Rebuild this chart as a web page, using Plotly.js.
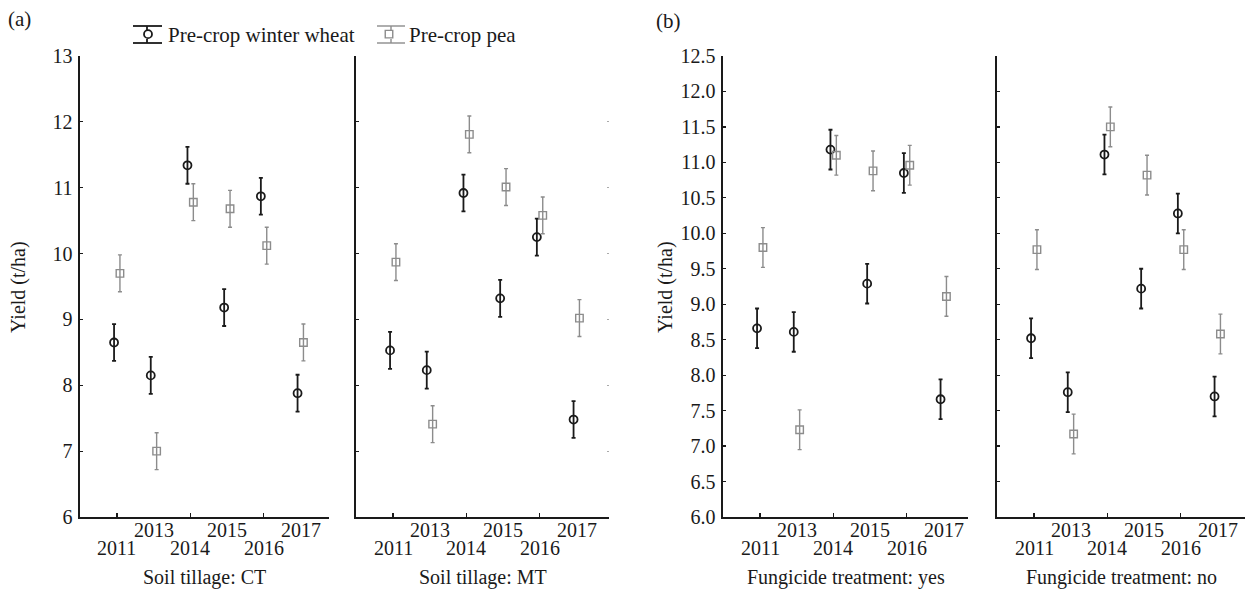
<!DOCTYPE html>
<html>
<head>
<meta charset="utf-8">
<script src="https://cdn.plot.ly/plotly-3.0.1.min.js"></script>
<style>html,body{margin:0;padding:0;background:#fff;}#chart{width:1245px;height:594px;}</style>
</head>
<body>
<div id="chart"></div>
<script>
// ---- data ----
const years = ['2011', '2013', '2014', '2015', '2016', '2017'];

const ctWheat = [8.65, 8.15, 11.34, 9.18, 10.87, 7.88];
const ctPea   = [9.70, 7.00, 10.78, 10.68, 10.12, 8.65];
const mtWheat = [8.53, 8.23, 10.92, 9.32, 10.25, 7.48];
const mtPea   = [9.87, 7.41, 11.81, 11.01, 10.58, 9.02];

const fyWheat = [8.66, 8.61, 11.18, 9.29, 10.85, 7.66];
const fyPea   = [9.80, 7.23, 11.10, 10.88, 10.96, 9.11];
const fnWheat = [8.52, 7.76, 11.11, 9.22, 10.28, 7.70];
const fnPea   = [9.77, 7.17, 11.50, 10.82, 9.77, 8.58];

const ciWheat = [0.28, 0.28, 0.28, 0.28, 0.28, 0.28];
const ciPea   = [0.28, 0.28, 0.28, 0.28, 0.28, 0.28];

const panelTitles = ['Soil tillage: CT', 'Soil tillage: MT', 'Fungicide treatment: yes', 'Fungicide treatment: no'];
const seriesNames = ['Pre-crop winter wheat', 'Pre-crop pea'];

// ---- styling ----
const W = 1245, H = 594;
const FONT = "'Liberation Serif', 'Times New Roman', 'DejaVu Serif', serif";
const BLACK = '#1a1a1a', GREY = '#8c8c8c';
const px = v => v / W;
const py = v => (H - v) / H;

const panels = [
  {wheat: ctWheat, pea: ctPea, x0: 80,  x1: 329,  ymax: 13,   dt: 1,   fmt: 'd'},
  {wheat: mtWheat, pea: mtPea, x0: 356, x1: 609,  ymax: 13,   dt: 1,   fmt: 'd'},
  {wheat: fyWheat, pea: fyPea, x0: 723, x1: 968,  ymax: 12.5, dt: 0.5, fmt: '.1f'},
  {wheat: fnWheat, pea: fnPea, x0: 997, x1: 1245, ymax: 12.5, dt: 0.5, fmt: '.1f'}
];
const SPACING = 36.7, FIRST = 37; // px
const idx = years.map((y, i) => i);

const data = [];
const layout = {
  width: W, height: H,
  margin: {l: 0, r: 0, t: 0, b: 0},
  paper_bgcolor: '#fff', plot_bgcolor: '#fff',
  font: {family: FONT, size: 20, color: BLACK},
  showlegend: true,
  legend: {orientation: 'h', x: px(128), y: py(14), xanchor: 'left', yanchor: 'top',
           font: {family: FONT, size: 21, color: BLACK}, bgcolor: 'rgba(0,0,0,0)',
           entrywidth: 196, entrywidthmode: 'pixels', traceorder: 'normal'},
  annotations: [], shapes: []
};

panels.forEach((p, k) => {
  const n = k + 1;
  const xa = 'xaxis' + (n === 1 ? '' : n), ya = 'yaxis' + (n === 1 ? '' : n);
  const xr = 'x' + (n === 1 ? '' : n), yr = 'y' + (n === 1 ? '' : n);
  const r0 = -FIRST / SPACING;
  const r1 = r0 + (p.x1 - p.x0) / SPACING;
  data.push({
    type: 'scatter', mode: 'markers', name: seriesNames[0], legendgroup: 'w', showlegend: k === 0,
    x: idx.map(i => i - 0.08), y: p.wheat, xaxis: xr, yaxis: yr,
    marker: {symbol: 'circle-open', size: 8, color: BLACK, line: {width: 1.8, color: BLACK}},
    error_y: {type: 'data', array: ciWheat, visible: true, color: BLACK, thickness: 1.8, width: 2},
    hoverinfo: 'skip'
  });
  data.push({
    type: 'scatter', mode: 'markers', name: seriesNames[1], legendgroup: 'p', showlegend: k === 0,
    x: idx.map(i => i + 0.08), y: p.pea, xaxis: xr, yaxis: yr,
    marker: {symbol: 'square-open', size: 7.5, color: GREY, line: {width: 1.4, color: GREY}},
    error_y: {type: 'data', array: ciPea, visible: true, color: GREY, thickness: 1.4, width: 2},
    hoverinfo: 'skip'
  });
  const ticks = [];
  for (let v = 6; v <= p.ymax + 1e-9; v += p.dt) ticks.push(+v.toFixed(2));
  layout[xa] = {
    domain: [px(p.x0), px(p.x1)], range: [r0, r1], anchor: yr,
    showgrid: false, zeroline: false, showline: true, linecolor: BLACK, linewidth: 1.6,
    ticks: 'inside', ticklen: 4, tickwidth: 1.2, tickcolor: BLACK,
    tickvals: [0, 2, 4], showticklabels: false, fixedrange: true
  };
  layout[ya] = {
    domain: [py(517), py(56)], range: [6, p.ymax], anchor: xr,
    showgrid: false, zeroline: false, showline: true, linecolor: BLACK, linewidth: 1.6,
    ticks: 'inside', ticklen: 3, tickwidth: 1.2, tickcolor: BLACK,
    tickvals: ticks, tickformat: p.fmt, showticklabels: (k === 0 || k === 2),
    tickfont: {family: FONT, size: 20, color: BLACK}, ticklabelstandoff: 2, fixedrange: true
  };
  // year labels in two staggered rows
  years.forEach((yv, i) => {
    layout.annotations.push({
      text: yv, xref: xr, yref: 'paper', x: i, y: py(i % 2 === 1 ? 530 : 548),
      xanchor: 'center', yanchor: 'middle', showarrow: false,
      font: {family: FONT, size: 20, color: BLACK}
    });
  });
  // panel axis title
  layout.annotations.push({
    text: panelTitles[k], xref: 'paper', yref: 'paper', x: px((p.x0 + p.x1) / 2), y: py(577),
    xanchor: 'center', yanchor: 'middle', showarrow: false,
    font: {family: FONT, size: 20, color: BLACK}
  });
});

// faint mirrored ticks on the right side of the MT panel
layout.yaxis5 = {
  overlaying: 'y2', side: 'right', anchor: 'x2', range: [6, 13], showline: false, showgrid: false,
  zeroline: false, ticks: 'inside', ticklen: 2, tickwidth: 1, tickcolor: '#aaa',
  tickvals: [7, 8, 9, 10, 11, 12], showticklabels: false, fixedrange: true
};
data.push({type: 'scatter', x: [], y: [], xaxis: 'x2', yaxis: 'y5', showlegend: false, hoverinfo: 'skip'});

// y titles and panel letters
[[18, 'Yield (t/ha)'], [665, 'Yield (t/ha)']].forEach(([x, t]) => {
  layout.annotations.push({
    text: t, xref: 'paper', yref: 'paper', x: px(x), y: py(287), textangle: -90,
    xanchor: 'center', yanchor: 'middle', showarrow: false, font: {family: FONT, size: 20, color: BLACK}
  });
});
[[19, 19, '(a)'], [668, 21, '(b)']].forEach(([x, y, t]) => {
  layout.annotations.push({
    text: t, xref: 'paper', yref: 'paper', x: px(x), y: py(y),
    xanchor: 'center', yanchor: 'middle', showarrow: false, font: {family: FONT, size: 21, color: BLACK}
  });
});

// legend caps (error-bar glyph around the legend markers)
[[133, 162, 147, BLACK, 1.8], [377, 405, 391, GREY, 1.4]].forEach(([a, b, c, col, w]) => {
  layout.shapes.push({type: 'line', xref: 'paper', yref: 'paper', x0: px(a), x1: px(b), y0: py(26), y1: py(26), line: {color: col, width: w}});
  layout.shapes.push({type: 'line', xref: 'paper', yref: 'paper', x0: px(a), x1: px(b), y0: py(43), y1: py(43), line: {color: col, width: w}});
  layout.shapes.push({type: 'line', xref: 'paper', yref: 'paper', x0: px(c), x1: px(c), y0: py(26), y1: py(30), line: {color: col, width: w}});
  layout.shapes.push({type: 'line', xref: 'paper', yref: 'paper', x0: px(c), x1: px(c), y0: py(39), y1: py(43), line: {color: col, width: w}});
});

Plotly.newPlot('chart', data, layout, {staticPlot: true, displayModeBar: false});
</script>
</body>
</html>
